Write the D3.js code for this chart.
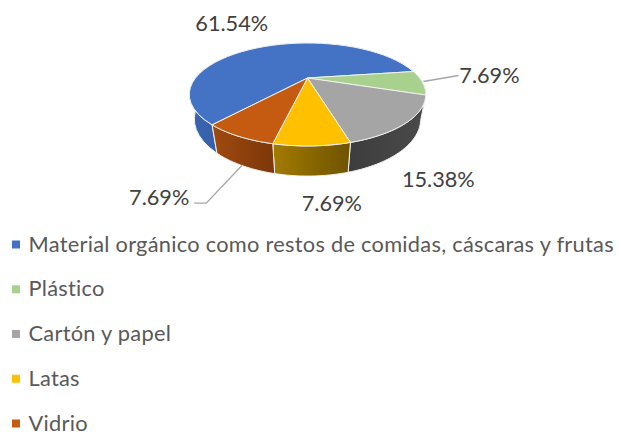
<!DOCTYPE html>
<html>
<head>
<meta charset="utf-8">
<script src="https://cdn.jsdelivr.net/npm/d3@7"></script>
<style>
  html, body { margin: 0; padding: 0; background: #fff; }
  text { font-family: Lato, "Open Sans", sans-serif; }
</style>
</head>
<body>
<div id="chart"></div>
<script>
var categories = [
  "Material orgánico como restos de comidas, cáscaras y frutas",
  "Plástico",
  "Cartón y papel",
  "Latas",
  "Vidrio"
];
var percentages = [61.54, 7.69, 15.38, 7.69, 7.69];
var colors = ["#4472c4", "#a9d18e", "#a5a5a5", "#ffc000", "#c55a11"];
var sideFrom = ["#3a65b0", "#7c9c66", "#3d3d3d", "#a37b00", "#a04a0e"];
var sideTo = ["#1f3d75", "#7c9c66", "#4a4a4a", "#6e5300", "#7c3709"];

var width = 619, height = 434;

// perspective of the disc
var apexX = 307.5, apexY = 78;
var scaleU = 112, scaleV = 46.2, tilt = 0.32;
var depthShift = 24.4, depthFar = 0.04;
var startDeg = 220;

// label nudges from the rim midpoint of each slice
var labelDx = [-33, 67, 31, 20, -79];
var labelDy = [-23.5, -7, 57, 57, 61];

function project(a, low) {
  // a is a d3.pie angle, clockwise from 12 o'clock
  var u = Math.sin(a), v = -Math.cos(a);
  var w = 1 - tilt * v + (low ? depthFar : 0);
  return [
    apexX + scaleU * u / w,
    apexY + (scaleV * v + (low ? depthShift : 0)) / w
  ];
}

function rim(d, low) {
  return d3.range(0, 41).map(function(i) {
    return project(d.startAngle + (d.endAngle - d.startAngle) * i / 40, low);
  });
}

var svg = d3.select("#chart").append("svg")
  .attr("width", width)
  .attr("height", height)
  .style("display", "block");

var start = startDeg * Math.PI / 180;
var arcs = d3.pie().sort(null).startAngle(start).endAngle(start + 2 * Math.PI)(percentages);
var line = d3.line();

var defs = svg.append("defs");
arcs.forEach(function(d, i) {
  var g = defs.append("linearGradient").attr("id", "side" + i);
  g.append("stop").attr("offset", 0).attr("stop-color", sideFrom[i]);
  g.append("stop").attr("offset", 1).attr("stop-color", sideTo[i]);
});

// side walls first, the tops cover whatever lands behind them
svg.append("g").selectAll("path").data(arcs).enter().append("path")
  .attr("d", function(d) {
    return line(rim(d, false).concat(rim(d, true).reverse())) + "Z";
  })
  .attr("fill", function(d, i) { return "url(#side" + i + ")"; })
  .attr("stroke", "#f2f2f2")
  .attr("stroke-width", 1)
  .attr("stroke-linejoin", "round");

svg.append("g").selectAll("path").data(arcs).enter().append("path")
  .attr("d", function(d) {
    return line([[apexX, apexY]].concat(rim(d, false))) + "Z";
  })
  .attr("fill", function(d, i) { return colors[i]; })
  .attr("stroke", "#f2f2f2")
  .attr("stroke-width", 1)
  .attr("stroke-linejoin", "round");

function mid(d) { return (d.startAngle + d.endAngle) / 2; }

// leader lines for the two labels that sit away from the pie
var greenRim = project(mid(arcs[1]), false);
var greenLabelX = greenRim[0] + labelDx[1] - 31;
var glassRim = project(mid(arcs[4]), true);
var glassLabelY = project(mid(arcs[4]), false)[1] + labelDy[4] + 6;
var glassLabelX = project(mid(arcs[4]), false)[0] + labelDx[4] + 35;

svg.append("path")
  .attr("d", line([[greenRim[0] + 1, greenRim[1] - 1], [greenLabelX, greenRim[1] + labelDy[1]]]))
  .attr("fill", "none").attr("stroke", "#a6a6a6").attr("stroke-width", 1.3);
svg.append("path")
  .attr("d", line([glassRim, [glassLabelX + 12, glassLabelY], [glassLabelX, glassLabelY]]))
  .attr("fill", "none").attr("stroke", "#a6a6a6").attr("stroke-width", 1.3);

svg.append("g").selectAll("text").data(arcs).enter().append("text")
  .attr("x", function(d, i) { return project(mid(d), false)[0] + labelDx[i]; })
  .attr("y", function(d, i) { return project(mid(d), false)[1] + labelDy[i]; })
  .attr("dy", "0.35em")
  .attr("text-anchor", "middle")
  .attr("font-size", 21.7)
  .attr("fill", "#404040")
  .text(function(d) { return d.value.toFixed(2) + "%"; });

// legend
var legendY = d3.scalePoint().domain(categories).range([244.5, 423.5]);

var legend = svg.append("g").selectAll("g").data(categories).enter().append("g")
  .attr("transform", function(d) { return "translate(12," + legendY(d) + ")"; });

legend.append("rect")
  .attr("x", 0).attr("y", -4)
  .attr("width", 8).attr("height", 8)
  .attr("fill", function(d, i) { return colors[i]; });

legend.append("text")
  .attr("x", 16.5)
  .attr("dy", "0.33em")
  .attr("font-size", 21.8)
  .attr("letter-spacing", 0.27)
  .attr("fill", "#595959")
  .text(function(d) { return d; });
</script>
</body>
</html>
